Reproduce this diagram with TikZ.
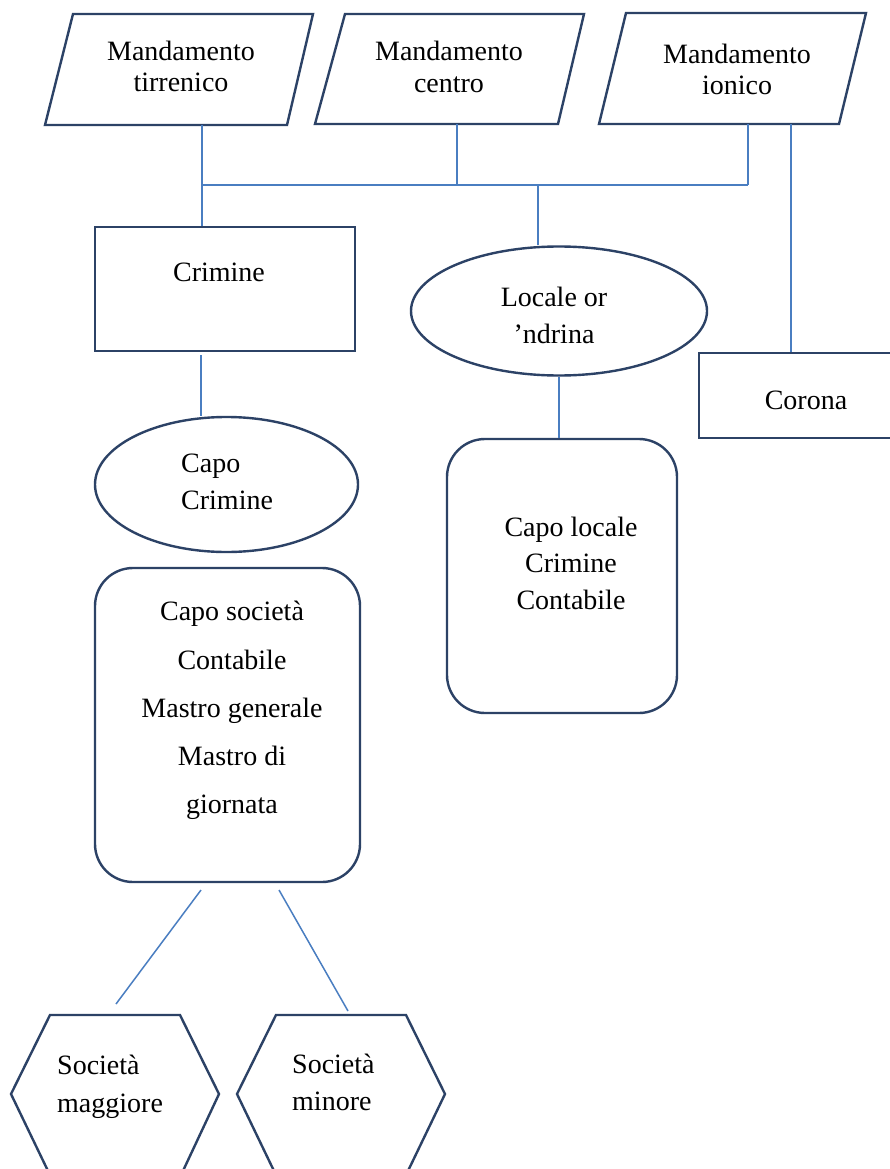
\documentclass[tikz,border=0pt]{standalone}
\usepackage{fontspec}
\setmainfont{Liberation Serif}
\usetikzlibrary{shapes.geometric}
\definecolor{outline}{RGB}{44,66,102}
\definecolor{conn}{RGB}{74,126,193}
\tikzset{
  shapebox/.style={draw=outline, line width=2.4pt, inner sep=0pt},
  link/.style={draw=conn, line width=1.5pt},
  txt/.style={anchor=base, inner sep=0pt, font=\fontsize{28}{34}\selectfont, text=black},
  txtw/.style={anchor=base west, inner sep=0pt, font=\fontsize{28}{34}\selectfont, text=black}
}
\begin{document}
\begin{tikzpicture}[x=1pt,y=-1pt]
\useasboundingbox (0,0) rectangle (890,1169);
\fill[white] (0,0) rectangle (890,1169);

% parallelograms
\draw[shapebox, line join=miter] (73,14) -- (313,14) -- (287,125) -- (45,125) -- cycle;
\draw[shapebox, line join=miter] (345,14) -- (584,14) -- (558,124) -- (315,124) -- cycle;
\draw[shapebox, line join=miter] (626,13) -- (866,13) -- (839,124) -- (599,124) -- cycle;
\coordinate (p1b) at (202,125);
\coordinate (p2b) at (457,124);
\coordinate (p3b) at (748,124);
\coordinate (p3c) at (791,124);
\coordinate (j1) at (202,185);
\coordinate (j2) at (457,185);
\coordinate (j3) at (748,185);
\coordinate (j4) at (538,185);

% boxes
\node[shapebox, rectangle, minimum width=260pt, minimum height=124pt] (crimine) at (225,289) {};
\node[shapebox, ellipse, minimum width=296pt, minimum height=129pt] (locale) at (559,311) {};
\node[shapebox, rectangle, minimum width=200pt, minimum height=85pt] (corona) at (799,395.5) {};
\node[shapebox, ellipse, minimum width=263pt, minimum height=135pt] (capocrim) at (226.5,484.5) {};
\node[shapebox, rectangle, rounded corners=38pt, minimum width=265pt, minimum height=314pt] (capobox) at (227.5,725) {};
\node[shapebox, rectangle, rounded corners=38pt, minimum width=230pt, minimum height=274pt] (localebox) at (562,576) {};

% hexagons
\draw[shapebox, line join=miter] (50,1015) -- (180,1015) -- (219,1094) -- (182,1173) -- (49,1173) -- (11,1094) -- cycle;
\draw[shapebox, line join=miter] (276,1015) -- (406,1015) -- (445,1094) -- (407,1173) -- (275,1173) -- (237,1094) -- cycle;
\coordinate (h1t) at (116,1004);
\coordinate (h2t) at (348,1011);
\coordinate (cb1) at (201,890);
\coordinate (cb2) at (279,890);

% connectors
\draw[link] (p1b) -- (crimine.north -| p1b);
\draw[link] (j1) -- (j3);
\draw[link] (p2b) -- (j2);
\draw[link] (p3b) -- (j3);
\draw[link] (j4) -- (j4 |- locale.north);
\draw[link] (p3c) -- (p3c |- corona.north);
\coordinate (cr1) at (201,355);
\draw[link] (cr1) -- (cr1 |- capocrim.north);
\draw[link] (locale.south) -- (localebox.north -| locale.south);
\draw[link] (cb1) -- (h1t);
\draw[link] (cb2) -- (h2t);

% texts
\node[txt] (t1a) at (181,61) {Mandamento};
\node[txt] (t1b) at (181,92) {tirrenico};
\node[txt] (t2a) at (449,61) {Mandamento};
\node[txt] (t2b) at (449,93) {centro};
\node[txt] (t3a) at (737,64) {Mandamento};
\node[txt] (t3b) at (737,95) {ionico};
\node[txt] (t4) at (219,281) {Crimine};
\node[txt] (t5a) at (554,306) {Locale or};
\node[txt] (t5b) at (554,343) {’ndrina};
\node[txt] (t6) at (806,409) {Corona};
\node[txtw] (t7a) at (181,472) {Capo};
\node[txtw] (t7b) at (181,509) {Crimine};
\node[txt] (t8a) at (232,620) {Capo società};
\node[txt] (t8b) at (232,669) {Contabile};
\node[txt] (t8c) at (232,717) {Mastro generale};
\node[txt] (t8d) at (232,765) {Mastro di};
\node[txt] (t8e) at (232,813) {giornata};
\node[txt] (t9a) at (571,536) {Capo locale};
\node[txt] (t9b) at (571,572) {Crimine};
\node[txt] (t9c) at (571,609) {Contabile};
\node[txtw] (t10a) at (57,1074) {Società};
\node[txtw] (t10b) at (57,1112) {maggiore};
\node[txtw] (t11a) at (292,1073) {Società};
\node[txtw] (t11b) at (292,1110) {minore};
\end{tikzpicture}
\end{document}
